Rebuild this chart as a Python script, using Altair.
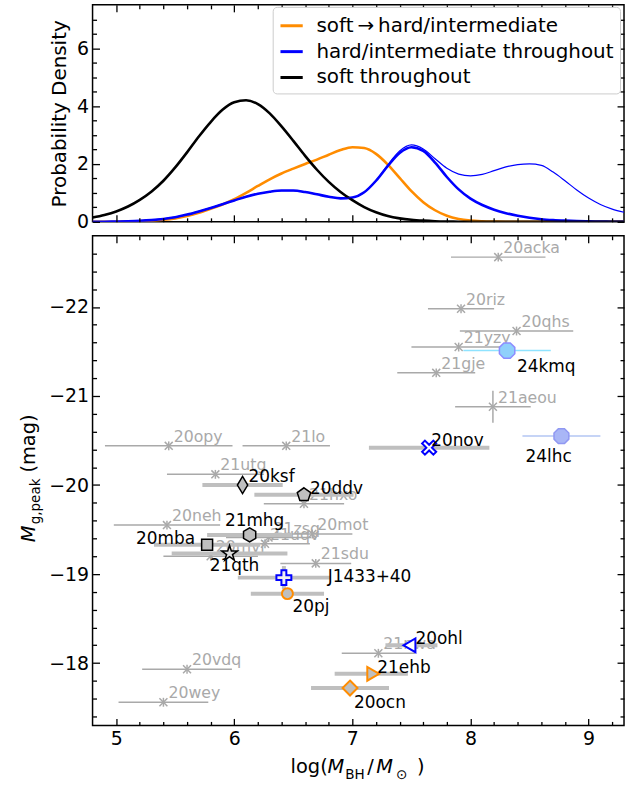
import altair as alt
import pandas as pd

FONT = "DejaVu Sans"

# ---------------- KDE curves of black-hole mass per spectral-state group ----------------
grid_logm = [4.8, 4.9, 5.0, 5.1, 5.2, 5.3, 5.4, 5.5, 5.6, 5.7, 5.8, 5.9,
             6.0, 6.1, 6.2, 6.3, 6.4, 6.5, 6.6, 6.7, 6.8, 6.9, 7.0, 7.1,
             7.2, 7.3, 7.4, 7.5, 7.6, 7.7, 7.8, 7.9, 8.0, 8.1, 8.2, 8.3,
             8.4, 8.5, 8.6, 8.7, 8.8, 8.9, 9.0, 9.1, 9.2, 9.3]
pdf_soft_to_hard = [0, 0, 0.005, 0.01, 0.02, 0.04, 0.07, 0.12, 0.2, 0.31, 0.45, 0.6,
                    0.78, 1.0, 1.24, 1.47, 1.67, 1.84, 2.0, 2.15, 2.32, 2.48, 2.58, 2.55,
                    2.35, 1.98, 1.52, 1.06, 0.68, 0.4, 0.21, 0.1, 0.045, 0.02, 0.008, 0,
                    0, 0, 0, 0, 0, 0, 0, 0, 0, 0]
pdf_hard = [0, 0.005, 0.01, 0.02, 0.035, 0.06, 0.1, 0.16, 0.25, 0.36, 0.48, 0.61,
            0.74, 0.87, 0.97, 1.04, 1.08, 1.08, 1.03, 0.95, 0.87, 0.81, 0.84, 1.02,
            1.42, 1.93, 2.38, 2.58, 2.45, 2.05, 1.55, 1.12, 0.8, 0.58, 0.42, 0.3,
            0.21, 0.14, 0.09, 0.06, 0.04, 0.025, 0.015, 0.01, 0.005, 0]
pdf_hard_all = [0, 0.005, 0.01, 0.02, 0.035, 0.06, 0.1, 0.16, 0.25, 0.36, 0.48, 0.61,
                0.74, 0.87, 0.97, 1.04, 1.08, 1.08, 1.03, 0.95, 0.87, 0.81, 0.84, 1.02,
                1.42, 1.97, 2.45, 2.66, 2.52, 2.18, 1.85, 1.65, 1.59, 1.64, 1.77, 1.9,
                1.98, 2.0, 1.95, 1.72, 1.42, 1.1, 0.82, 0.6, 0.44, 0.33]
pdf_soft = [0.15, 0.24, 0.36, 0.53, 0.76, 1.05, 1.42, 1.88, 2.4, 2.95, 3.45, 3.87,
            4.13, 4.2, 4.07, 3.75, 3.3, 2.8, 2.28, 1.8, 1.38, 1.03, 0.75, 0.51,
            0.33, 0.2, 0.12, 0.07, 0.04, 0.02, 0.01, 0.005, 0, 0, 0, 0,
            0, 0, 0, 0, 0, 0, 0, 0, 0, 0]

GROUPS = ["soft\u2009\u2192\u2009hard/intermediate", "hard/intermediate throughout", "soft throughout"]
GROUP_COLORS = ["#ff8c00", "#0000ff", "#000000"]

# ---------------- comparison sample (grey crosses) ----------------
ref_name = ["20acka", "20riz", "20qhs", "21yzy", "21gje", "21aeou", "20opy", "21lo",
            "21utg", "20neh", "20mot", "21zsq", "21uqv", "21sdu", "21hxo", "20mvi",
            "21nwa", "20vdq", "20wey"]
ref_logm = [8.235, 7.92, 8.39, 7.90, 7.71, 8.19, 5.445, 6.44,
            5.84, 5.43, 6.66, 6.29, 6.26, 6.69, 6.59, 5.80,
            7.22, 5.60, 5.40]
ref_logm_err = [0.40, 0.28, 0.48, 0.40, 0.33, 0.32, 0.54, 0.37,
                0.41, 0.45, 0.34, 0.36, 0.38, 0.30, 0.34, 0.40,
                0.31, 0.38, 0.38]
ref_mag = [-22.56, -21.98, -21.73, -21.55, -21.26, -20.88, -20.44, -20.44,
           -20.12, -19.55, -19.45, -19.41, -19.34, -19.12, -19.79, -19.20,
           -18.11, -17.93, -17.56]
ref_mag_err = [0.05, 0.05, 0.05, 0.05, 0.05, 0.18, 0.05, 0.05,
               0.05, 0.05, 0.05, 0.05, 0.05, 0.05, 0.05, 0.05,
               0.05, 0.05, 0.05]

# ---------------- highlighted objects ----------------
obj_name = ["24kmq", "24lhc", "20nov", "20ksf", "20ddv", "21mhg", "20mba",
            "21qth", "J1433+40", "20pj", "20ohl", "21ehb", "20ocn"]
obj_logm = [8.31, 8.77, 7.65, 6.07, 6.59, 6.13, 5.77,
            5.96, 6.42, 6.45, 7.50, 7.16, 6.98]
obj_logm_err = [0.37, 0.33, 0.51, 0.34, 0.42, 0.36, 0.45,
                0.49, 0.39, 0.31, 0.22, 0.31, 0.33]
obj_mag = [-21.51, -20.55, -20.42, -20.00, -19.89, -19.44, -19.33,
           -19.23, -18.96, -18.78, -18.20, -17.88, -17.72]
obj_mag_err = [0, 0, 0, 0, 0, 0, 0,
               0, 0.13, 0, 0, 0, 0]

# ---------------- marker glyphs ----------------
X_PATH = "M-1,-1L1,1M-1,1L1,-1"
OCTAGON = ("M0.383,-0.924L0.924,-0.383L0.924,0.383L0.383,0.924L-0.383,0.924"
           "L-0.924,0.383L-0.924,-0.383L-0.383,-0.924Z")
X_FILLED = ("M-0.6,-1L0,-0.4L0.6,-1L1,-0.6L0.4,0L1,0.6L0.6,1L0,0.4L-0.6,1"
            "L-1,0.6L-0.4,0L-1,-0.6Z")
THIN_DIAMOND = "M0,-1L0.6,0L0,1L-0.6,0Z"
DIAMOND = "M0,-1L1,0L0,1L-1,0Z"
PENTAGON = "M0,-1L0.951,-0.309L0.588,0.809L-0.588,0.809L-0.951,-0.309Z"
HEXAGON = "M0,-1L0.866,-0.5L0.866,0.5L0,1L-0.866,0.5L-0.866,-0.5Z"
SQUARE = "M-1,-1L1,-1L1,1L-1,1Z"
STAR = ("M0,-1L0.225,-0.309L0.951,-0.309L0.363,0.118L0.588,0.809L0,0.382"
        "L-0.588,0.809L-0.363,0.118L-0.951,-0.309L-0.225,-0.309Z")
PLUS = ("M-0.33,-1L0.33,-1L0.33,-0.33L1,-0.33L1,0.33L0.33,0.33L0.33,1L-0.33,1"
        "L-0.33,0.33L-1,0.33L-1,-0.33L-0.33,-0.33Z")
TRI_LEFT = "M-1,0L0.5,-0.866L0.5,0.866Z"
TRI_RIGHT = "M1,0L-0.5,-0.866L-0.5,0.866Z"

GREY = "#a9a9a9"
BAR = "#bfbfbf"
ORANGE = "#ff8c00"
BLUE = "#0000ff"

# shape, size, fill, stroke, stroke width
MARKER = {
    "24kmq": (OCTAGON, 280, "#8fd0fb", "#8c8cff", 1.5),
    "24lhc": (OCTAGON, 260, "#a9b6f6", "#9098f2", 1.5),
    "20nov": (X_FILLED, 200, "#ffffff", BLUE, 2.0),
    "20ksf": (THIN_DIAMOND, 300, BAR, "black", 1.5),
    "20ddv": (PENTAGON, 200, BAR, "black", 1.5),
    "21mhg": (HEXAGON, 200, BAR, "black", 1.5),
    "20mba": (SQUARE, 121, BAR, "black", 1.5),
    "21qth": (STAR, 270, "#dcdcdc", "black", 1.5),
    "J1433+40": (PLUS, 225, "#f0f0f0", BLUE, 2.0),
    "20pj": ("circle", 121, BAR, ORANGE, 2.0),
    "20ohl": (TRI_LEFT, 256, "#ffffff", BLUE, 2.0),
    "21ehb": (TRI_RIGHT, 256, BAR, ORANGE, 2.0),
    "20ocn": (DIAMOND, 225, BAR, ORANGE, 2.0),
}
# error-bar colour and width for each highlighted object
ERRBAR = {"24kmq": ("#8fe3ff", 1.5), "24lhc": ("#b3c6f3", 1.5)}
# label placement: align, baseline, dx, dy
LABEL = {
    "24kmq": ("left", "alphabetic", 10, 21),
    "24lhc": ("left", "alphabetic", -36, 26),
    "20nov": ("left", "alphabetic", 2, -2),
    "20ksf": ("left", "alphabetic", 6, -3),
    "20ddv": ("left", "alphabetic", 6, -1),
    "21mhg": ("center", "alphabetic", 5, -9),
    "20mba": ("right", "alphabetic", -12, -1),
    "21qth": ("center", "alphabetic", 5, 17),
    "J1433+40": ("left", "alphabetic", 44, 4),
    "20pj": ("left", "alphabetic", 5, 18),
    "20ohl": ("left", "alphabetic", 4, -1),
    "21ehb": ("left", "alphabetic", 6, -1),
    "20ocn": ("left", "alphabetic", 4, 20),
}

# ---------------- layout ----------------
W = 534
H_TOP = 218
H_MAIN = 492

X_SCALE = alt.Scale(domain=[4.8, 9.3], nice=False, zero=False)
Y_TOP_SCALE = alt.Scale(domain=[0, 7.5], nice=False, zero=False)
Y_MAIN_SCALE = alt.Scale(domain=[-22.8, -17.3], nice=False, zero=False, reverse=True)

X_MAJOR = [5, 6, 7, 8, 9]
X_MINOR = [5.2, 5.4, 5.6, 5.8, 6.2, 6.4, 6.6, 6.8, 7.2, 7.4, 7.6, 7.8,
           8.2, 8.4, 8.6, 8.8, 9.2]
Y_TOP_MAJOR = [0, 2, 4, 6]
Y_TOP_MINOR = [0.5, 1, 1.5, 2.5, 3, 3.5, 4.5, 5, 5.5, 6.5, 7]
Y_MAIN_MAJOR = [-22, -21, -20, -19, -18]
Y_MAIN_MINOR = [-22.6, -22.4, -22.2, -21.8, -21.6, -21.4, -21.2, -20.8, -20.6,
                -20.4, -20.2, -19.8, -19.6, -19.4, -19.2, -18.8, -18.6, -18.4,
                -18.2, -17.8, -17.6, -17.4]

TICK_FONT = 19
TITLE_FONT = 19.5
LEGEND_FONT = 20
SUB_FONT = 13.6


def frame_layers(y_scale, height, y_major, y_minor, y_title, x_labels):
    """Inward ticks on all four sides plus the labelled left/bottom axes."""
    anchor = pd.DataFrame({"x": [X_MAJOR[0]], "y": [y_major[0]]})

    def lay(xax, yax):
        return alt.Chart(anchor).mark_point(opacity=0).encode(
            x=alt.X("x:Q", scale=X_SCALE, axis=xax),
            y=alt.Y("y:Q", scale=y_scale, axis=yax),
        )

    def ticks(orient, offset, values, size):
        return alt.Axis(orient=orient, offset=offset, values=values, tickSize=size,
                        tickWidth=1.3, tickColor="black", labels=False, domain=False,
                        grid=False, title=None, zindex=2)

    layers = [
        lay(ticks("top", -height, X_MAJOR, 7), ticks("right", -W, y_major, 7)),
        lay(ticks("top", -height, X_MINOR, 4), ticks("right", -W, y_minor, 4)),
        lay(ticks("bottom", -height, X_MAJOR, 7), ticks("left", -W, y_major, 7)),
        lay(ticks("bottom", -height, X_MINOR, 4), ticks("left", -W, y_minor, 4)),
    ]
    x_lab = None
    if x_labels:
        x_lab = alt.Axis(orient="bottom", values=X_MAJOR, ticks=False, domain=False,
                         grid=False, title=None, format="d", labelFont=FONT,
                         labelFontSize=TICK_FONT, labelColor="black", labelPadding=4,
                         labelFlush=False, labelOverlap=False)
    y_kw = dict(orient="left", values=y_major, ticks=False, domain=False, grid=False,
                format="d", labelFont=FONT, labelFontSize=TICK_FONT,
                labelColor="black", labelPadding=4, labelOverlap=False, minExtent=0)
    if y_title:
        y_lab = alt.Axis(title=y_title, titleFont=FONT, titleFontSize=20,
                         titleFontWeight="normal", titleColor="black", titlePadding=7,
                         **y_kw)
    else:
        y_lab = alt.Axis(title=None, **y_kw)
    layers.append(lay(x_lab, y_lab))
    return layers


# ---------------- top panel: probability densities ----------------
kde_long = pd.DataFrame({
    "logm": grid_logm * 3,
    "pdf": pdf_soft_to_hard + pdf_hard + pdf_soft,
    "group": [GROUPS[0]] * len(grid_logm) + [GROUPS[1]] * len(grid_logm)
             + [GROUPS[2]] * len(grid_logm),
})
kde_all = pd.DataFrame({"logm": grid_logm, "pdf": pdf_hard_all})

density_lines = alt.Chart(kde_long).mark_line(
    strokeWidth=2.6, interpolate="monotone", clip=True
).encode(
    x=alt.X("logm:Q", scale=X_SCALE, axis=None),
    y=alt.Y("pdf:Q", scale=Y_TOP_SCALE, axis=None),
    color=alt.Color(
        "group:N", sort=GROUPS,
        scale=alt.Scale(domain=GROUPS, range=GROUP_COLORS),
        legend=alt.Legend(
            orient="none", legendX=181, legendY=2, title=None, labelFont=FONT,
            labelFontSize=LEGEND_FONT, labelColor="black", labelLimit=400,
            symbolType="stroke", symbolStrokeWidth=3, symbolSize=500,
            labelOffset=12, rowPadding=3, padding=6, fillColor="white",
            strokeColor="#cccccc", cornerRadius=4,
        ),
    ),
)
density_all = alt.Chart(kde_all).mark_line(
    strokeWidth=1.2, interpolate="monotone", clip=True, color=BLUE
).encode(
    x=alt.X("logm:Q", scale=X_SCALE, axis=None),
    y=alt.Y("pdf:Q", scale=Y_TOP_SCALE, axis=None),
)

top = alt.layer(
    density_lines, density_all,
    *frame_layers(Y_TOP_SCALE, H_TOP, Y_TOP_MAJOR, Y_TOP_MINOR, "Probability Density", False),
).resolve_axis(x="independent", y="independent").properties(width=W, height=H_TOP)

# ---------------- main panel: peak magnitude vs black-hole mass ----------------
ref = pd.DataFrame({"name": ref_name, "logm": ref_logm, "err": ref_logm_err,
                    "mag": ref_mag, "merr": ref_mag_err})
ref["lo"] = ref["logm"] - ref["err"]
ref["hi"] = ref["logm"] + ref["err"]
ref["mlo"] = ref["mag"] - ref["merr"]
ref["mhi"] = ref["mag"] + ref["merr"]

obj = pd.DataFrame({"name": obj_name, "logm": obj_logm, "err": obj_logm_err,
                    "mag": obj_mag, "merr": obj_mag_err})
obj["lo"] = obj["logm"] - obj["err"]
obj["hi"] = obj["logm"] + obj["err"]
obj["mlo"] = obj["mag"] - obj["merr"]
obj["mhi"] = obj["mag"] + obj["merr"]

xq = alt.X("logm:Q", scale=X_SCALE, axis=None)
yq = alt.Y("mag:Q", scale=Y_MAIN_SCALE, axis=None)

ref_xbars = alt.Chart(ref).mark_rule(color=GREY, strokeWidth=1.5).encode(
    x=alt.X("lo:Q", scale=X_SCALE, axis=None), x2="hi:Q", y=yq)
ref_ybars = alt.Chart(ref).mark_rule(color=GREY, strokeWidth=1.5).encode(
    x=xq, y=alt.Y("mlo:Q", scale=Y_MAIN_SCALE, axis=None), y2="mhi:Q")
ref_marks = alt.Chart(ref).mark_point(
    shape=X_PATH, size=64, filled=False, stroke=GREY, strokeWidth=1.5, opacity=1
).encode(x=xq, y=yq)
ref_labels = alt.Chart(ref).mark_text(
    align="left", baseline="alphabetic", dx=5, dy=-4, font=FONT, fontSize=15.8, color=GREY
).encode(x=xq, y=yq, text="name:N")

obj_layers = []
for name in obj_name:
    col, wid = ERRBAR.get(name, (BAR, 4))
    sel = alt.Chart(obj).transform_filter(alt.datum.name == name)
    obj_layers.append(sel.mark_rule(color=col, strokeWidth=wid).encode(
        x=alt.X("lo:Q", scale=X_SCALE, axis=None), x2="hi:Q", y=yq))
    if obj.loc[obj["name"] == name, "merr"].iloc[0] > 0:
        obj_layers.append(sel.mark_rule(color=col, strokeWidth=wid).encode(
            x=xq, y=alt.Y("mlo:Q", scale=Y_MAIN_SCALE, axis=None), y2="mhi:Q"))
for name in obj_name:
    shape, size, fill, stroke, sw = MARKER[name]
    sel = alt.Chart(obj).transform_filter(alt.datum.name == name)
    obj_layers.append(sel.mark_point(
        shape=shape, size=size, filled=True, fill=fill, stroke=stroke,
        strokeWidth=sw, opacity=1, fillOpacity=1
    ).encode(x=xq, y=yq))
for name in obj_name:
    align, baseline, dx, dy = LABEL[name]
    sel = alt.Chart(obj).transform_filter(alt.datum.name == name)
    obj_layers.append(sel.mark_text(
        align=align, baseline=baseline, dx=dx, dy=dy, font=FONT, fontSize=17,
        color="black"
    ).encode(x=xq, y=yq, text="name:N"))


def title_piece(text, x, y, size=TITLE_FONT, italic=False, angle=0):
    kw = dict(align="left", baseline="alphabetic", font=FONT, fontSize=size,
              color="black", angle=angle)
    if italic:
        kw["fontStyle"] = "italic"
    return alt.Chart(pd.DataFrame({"t": [0]})).mark_text(**kw).encode(
        x=alt.value(x), y=alt.value(y), text=alt.value(text))


x_title = [
    title_piece("log(", 199, 540),
    title_piece("M", 236, 540, italic=True),
    title_piece("BH", 254, 546, SUB_FONT),
    title_piece("/", 276, 540),
    title_piece("M", 285, 540, italic=True),
    title_piece("\u2299", 305, 546, SUB_FONT),
    title_piece(")", 326, 540),
]
y_title = [
    title_piece("M", -58, 308, italic=True, angle=270),
    title_piece("g,peak", -53, 290, SUB_FONT, angle=270),
    title_piece("(mag)", -58, 238, angle=270),
]

main = alt.layer(
    ref_xbars, ref_ybars, ref_marks, ref_labels, *obj_layers, *x_title, *y_title,
    *frame_layers(Y_MAIN_SCALE, H_MAIN, Y_MAIN_MAJOR, Y_MAIN_MINOR, None, True),
).resolve_axis(x="independent", y="independent").properties(width=W, height=H_MAIN)

chart = alt.vconcat(top, main, spacing=1).configure_view(
    stroke="black", strokeWidth=1.5
).properties(
    padding={"left": 18, "top": 1, "right": 1, "bottom": 2}
)

chart.save("out.html", embed_options={"renderer": "svg", "actions": False})
